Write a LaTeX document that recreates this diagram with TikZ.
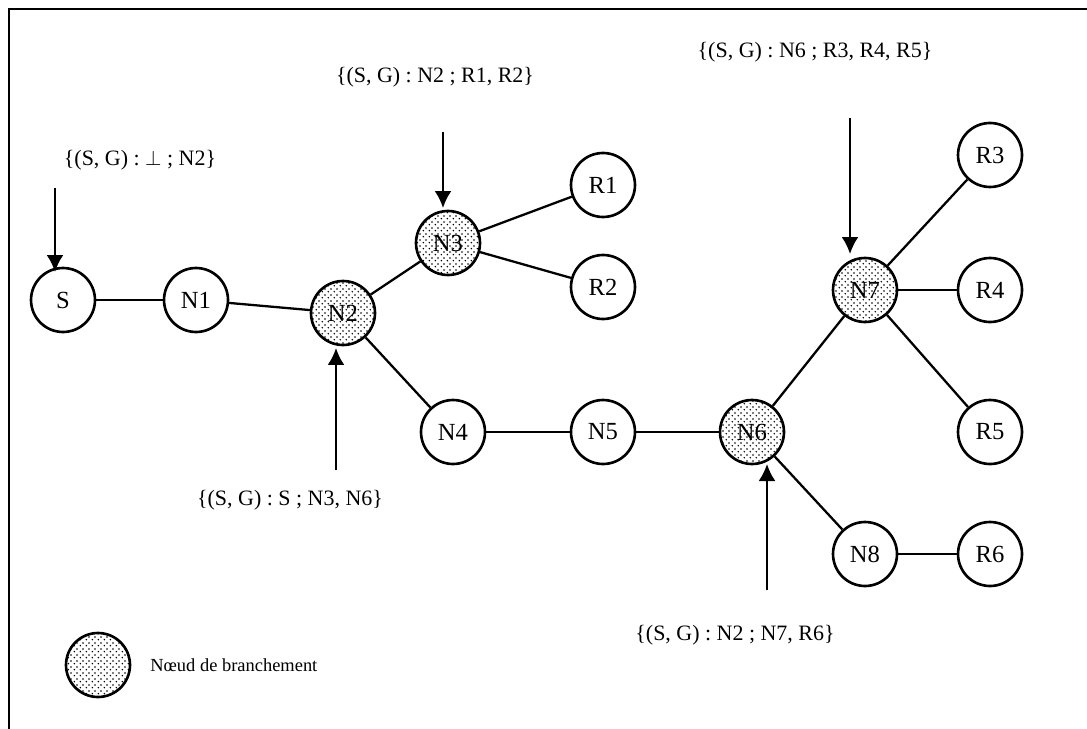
\documentclass[tikz,border=0pt]{standalone}
\usepackage{fontspec}
\setmainfont{Liberation Serif}
\usetikzlibrary{patterns}
\usetikzlibrary{arrows.meta}
\pgfdeclarelayer{nodelayer}
\pgfdeclarelayer{edgelayer}
\pgfsetlayers{edgelayer,nodelayer,main}
\pgfdeclarepatternformonly{stipple}{\pgfpointorigin}{\pgfpoint{3.2pt}{3.2pt}}{\pgfpoint{3.2pt}{3.2pt}}{%
	\pgfpathcircle{\pgfpoint{0.8pt}{0.8pt}}{0.5pt}
	\pgfpathcircle{\pgfpoint{2.4pt}{2.4pt}}{0.5pt}
	\pgfusepath{fill}
}
\tikzstyle{none}=[inner sep=-1pt]
\tikzstyle{router}=[shape=circle, draw, line width=1.5pt, minimum size=1.28cm, inner sep=0pt, font=\fontsize{14}{16}\selectfont]
\tikzstyle{branch}=[router, pattern=stipple]
\tikzstyle{annot}=[inner sep=0pt, font=\fontsize{12.5}{15}\selectfont]
\tikzstyle{link}=[line width=1.3pt]
\tikzstyle{pointer}=[line width=1.3pt, -{Latex[length=0.34cm,width=0.34cm]}]

\begin{document}
\begin{tikzpicture}[x=0.02cm, y=-0.02cm]
	\useasboundingbox (0,0) rectangle (1087,729);
	\draw [line width=1.6pt] (1087,9) -- (9,9) -- (9,729);
	\begin{pgfonlayer}{nodelayer}
		\node [style=router] (0) at (63, 300) {S};
		\node [style=router] (1) at (196, 300) {N1};
		\node [style=branch] (2) at (343, 313) {N2};
		\node [style=branch] (3) at (448, 243) {N3};
		\node [style=router] (4) at (603, 185) {R1};
		\node [style=router] (5) at (603, 287) {R2};
		\node [style=router] (6) at (453, 432) {N4};
		\node [style=router] (7) at (603, 432) {N5};
		\node [style=branch] (8) at (752, 432) {N6};
		\node [style=branch] (9) at (865, 290) {N7};
		\node [style=router] (10) at (990, 155) {R3};
		\node [style=router] (11) at (990, 290) {R4};
		\node [style=router] (12) at (990, 432) {R5};
		\node [style=router] (13) at (865, 554) {N8};
		\node [style=router] (14) at (990, 554) {R6};
		\node [style=branch] (15) at (98, 665) {};
		\node [style=annot, anchor=west, font=\fontsize{10.5}{12}\selectfont] (16) at (150, 665) {Nœud de branchement};
		\node [style=annot] (17) at (140, 160) {\{(S, G) : $\perp$ ; N2\}};
		\node [style=annot] (18) at (435, 77) {\{(S, G) : N2 ; R1, R2\}};
		\node [style=annot] (19) at (815, 52) {\{(S, G) : N6 ; R3, R4, R5\}};
		\node [style=annot] (20) at (290, 500) {\{(S, G) : S ; N3, N6\}};
		\node [style=annot] (21) at (735, 635) {\{(S, G) : N2 ; N7, R6\}};
		\node [style=none] (22) at (55, 188) {};
		\node [style=none] (23) at (55, 272) {};
		\node [style=none] (24) at (443, 132) {};
		\node [style=none] (25) at (443, 208) {};
		\node [style=none] (26) at (850, 118) {};
		\node [style=none] (27) at (850, 254) {};
		\node [style=none] (28) at (336, 470) {};
		\node [style=none] (29) at (336, 348) {};
		\node [style=none] (30) at (767, 590) {};
		\node [style=none] (31) at (767, 464) {};
	\end{pgfonlayer}
	\begin{pgfonlayer}{edgelayer}
		\draw [style=link] (0) to (1);
		\draw [style=link] (1) to (2);
		\draw [style=link] (2) to (3);
		\draw [style=link] (3) to (4);
		\draw [style=link] (3) to (5);
		\draw [style=link] (2) to (6);
		\draw [style=link] (6) to (7);
		\draw [style=link] (7) to (8);
		\draw [style=link] (8) to (9);
		\draw [style=link] (9) to (10);
		\draw [style=link] (9) to (11);
		\draw [style=link] (9) to (12);
		\draw [style=link] (8) to (13);
		\draw [style=link] (13) to (14);
		\draw [style=pointer] (22.center) to (23.center);
		\draw [style=pointer] (24.center) to (25.center);
		\draw [style=pointer] (26.center) to (27.center);
		\draw [style=pointer] (28.center) to (29.center);
		\draw [style=pointer] (30.center) to (31.center);
	\end{pgfonlayer}
\end{tikzpicture}
\end{document}
